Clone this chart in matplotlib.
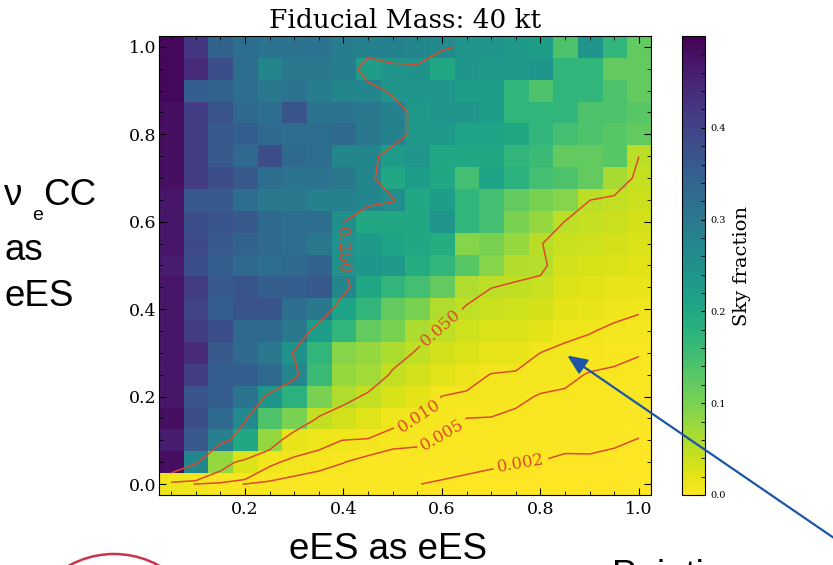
import numpy as np
import matplotlib.pyplot as plt
from matplotlib.patches import Ellipse, FancyArrowPatch
from matplotlib.ticker import MultipleLocator
from matplotlib.transforms import IdentityTransform

plt.rcParams['font.family'] = 'DejaVu Serif'

# grid centres (eES as eES along x, nu_e CC as eES along y)
x_centers = [0.05, 0.10, 0.15, 0.20, 0.25, 0.30, 0.35, 0.40, 0.45, 0.50,
             0.55, 0.60, 0.65, 0.70, 0.75, 0.80, 0.85, 0.90, 0.95, 1.00]
y_centers = [0.00, 0.05, 0.10, 0.15, 0.20, 0.25, 0.30, 0.35, 0.40, 0.45, 0.50,
             0.55, 0.60, 0.65, 0.70, 0.75, 0.80, 0.85, 0.90, 0.95, 1.00]

# sky fraction, one row per y value
frac_y000 = [0.012, 0.0098, 0.0055, 0.00495, 0.004, 0.0033, 0.0028, 0.0026, 0.0024, 0.0023, 0.00205, 0.00173, 0.00149, 0.00116, 0.00104, 0.00095, 0.0008, 0.0007, 0.0006, 0.00036]
frac_y005 = [0.48, 0.27, 0.08, 0.029, 0.0115, 0.008, 0.0065, 0.0051, 0.0034, 0.0032, 0.0036, 0.0031, 0.00265, 0.0024, 0.0021, 0.00195, 0.00163, 0.00172, 0.00152, 0.00114]
frac_y010 = [0.46, 0.36, 0.283, 0.2, 0.08, 0.0163, 0.0128, 0.0098, 0.0087, 0.0062, 0.0056, 0.00445, 0.0038, 0.00362, 0.0032, 0.00286, 0.00256, 0.00246, 0.00227, 0.00192]
frac_y015 = [0.48, 0.38, 0.33, 0.26, 0.14, 0.10, 0.045, 0.0345, 0.025, 0.0132, 0.0095, 0.00676, 0.00496, 0.00485, 0.00425, 0.00377, 0.0035, 0.0032, 0.00301, 0.0027]
frac_y020 = [0.47, 0.37, 0.35, 0.31, 0.235, 0.18, 0.10, 0.06, 0.045, 0.0297, 0.0207, 0.0097, 0.0082, 0.0071, 0.00586, 0.00468, 0.00444, 0.00395, 0.00375, 0.00348]
frac_y025 = [0.47, 0.41, 0.35, 0.35, 0.33, 0.27, 0.16, 0.08, 0.07, 0.0462, 0.034, 0.0216, 0.015, 0.0095, 0.00874, 0.0069, 0.00593, 0.0047, 0.0045, 0.00426]
frac_y030 = [0.47, 0.44, 0.36, 0.33, 0.30, 0.245, 0.17, 0.09, 0.08, 0.062, 0.0473, 0.0345, 0.026, 0.0185, 0.0159, 0.00988, 0.00827, 0.00697, 0.00582, 0.00515]
frac_y035 = [0.47, 0.41, 0.38, 0.33, 0.33, 0.30, 0.22, 0.17, 0.12, 0.10, 0.061, 0.0474, 0.0369, 0.0292, 0.0263, 0.0207, 0.012, 0.0105, 0.0084, 0.00773]
frac_y040 = [0.47, 0.40, 0.35, 0.37, 0.37, 0.32, 0.30, 0.21, 0.17, 0.12, 0.10, 0.06, 0.0478, 0.0398, 0.0368, 0.0318, 0.0196, 0.0171, 0.0126, 0.0107]
frac_y045 = [0.47, 0.41, 0.36, 0.37, 0.35, 0.35, 0.36, 0.27, 0.20, 0.17, 0.15, 0.12, 0.059, 0.0504, 0.0473, 0.0429, 0.0273, 0.0237, 0.0193, 0.0163]
frac_y050 = [0.46, 0.38, 0.35, 0.33, 0.32, 0.33, 0.34, 0.248, 0.235, 0.23, 0.19, 0.17, 0.13, 0.09, 0.0577, 0.056, 0.035, 0.0303, 0.0261, 0.0219]
frac_y055 = [0.47, 0.39, 0.36, 0.34, 0.33, 0.32, 0.30, 0.248, 0.23, 0.21, 0.20, 0.19, 0.09, 0.10, 0.08, 0.051, 0.04, 0.0369, 0.0328, 0.0276]
frac_y060 = [0.47, 0.38, 0.37, 0.36, 0.33, 0.32, 0.32, 0.252, 0.20, 0.20, 0.20, 0.24, 0.17, 0.15, 0.10, 0.08, 0.049, 0.0435, 0.0396, 0.0332]
frac_y065 = [0.47, 0.36, 0.36, 0.32, 0.30, 0.30, 0.28, 0.28, 0.27, 0.255, 0.20, 0.22, 0.17, 0.15, 0.12, 0.10, 0.09, 0.0502, 0.0463, 0.0388]
frac_y070 = [0.48, 0.41, 0.38, 0.36, 0.32, 0.31, 0.31, 0.30, 0.27, 0.20, 0.22, 0.20, 0.15, 0.21, 0.18, 0.15, 0.14, 0.12, 0.065, 0.0445]
frac_y075 = [0.48, 0.41, 0.36, 0.33, 0.38, 0.33, 0.32, 0.27, 0.27, 0.224, 0.24, 0.20, 0.20, 0.20, 0.17, 0.16, 0.12, 0.12, 0.13, 0.0501]
frac_y080 = [0.48, 0.41, 0.36, 0.35, 0.33, 0.32, 0.32, 0.33, 0.30, 0.28, 0.23, 0.23, 0.21, 0.21, 0.20, 0.17, 0.15, 0.14, 0.13, 0.12]
frac_y085 = [0.48, 0.41, 0.37, 0.33, 0.32, 0.37, 0.31, 0.31, 0.30, 0.28, 0.23, 0.24, 0.24, 0.22, 0.17, 0.17, 0.17, 0.14, 0.14, 0.13]
frac_y090 = [0.49, 0.35, 0.34, 0.32, 0.30, 0.31, 0.29, 0.27, 0.27, 0.24, 0.24, 0.24, 0.22, 0.22, 0.17, 0.14, 0.17, 0.17, 0.14, 0.12]
frac_y095 = [0.49, 0.44, 0.38, 0.32, 0.27, 0.30, 0.30, 0.29, 0.22, 0.24, 0.245, 0.20, 0.24, 0.23, 0.23, 0.24, 0.17, 0.17, 0.12, 0.12]
frac_y100 = [0.49, 0.42, 0.34, 0.32, 0.31, 0.31, 0.31, 0.29, 0.28, 0.28, 0.27, 0.26, 0.24, 0.24, 0.23, 0.22, 0.14, 0.24, 0.17, 0.12]

levels = [0.002, 0.005, 0.010, 0.050, 0.250]
cbar_ticks = [0.0, 0.1, 0.2, 0.3, 0.4]

sky = np.array([frac_y000, frac_y005, frac_y010, frac_y015, frac_y020, frac_y025,
                frac_y030, frac_y035, frac_y040, frac_y045, frac_y050, frac_y055,
                frac_y060, frac_y065, frac_y070, frac_y075, frac_y080, frac_y085,
                frac_y090, frac_y095, frac_y100])

# where the contour labels sit
label_spots = [(0.76, 0.05), (0.60, 0.115), (0.55, 0.16), (0.60, 0.355), (0.40, 0.535)]

W, H = 833, 565
fig = plt.figure(figsize=(W / 100, H / 100), dpi=100)
ax = fig.add_axes([158.8 / W, 1 - 495 / H, 492.4 / W, 459 / H])
cax = fig.add_axes([682 / W, 1 - 495 / H, 23 / W, 459 / H])

im = ax.imshow(sky, origin='lower', cmap='viridis_r', vmin=0, vmax=0.5,
               extent=[0.025, 1.025, -0.025, 1.025], aspect='auto',
               interpolation='nearest')
cs = ax.contour(x_centers, y_centers, sky, levels=levels, colors='#dc4a2c',
                linewidths=1.1)
ax.clabel(cs, fmt='%.3f', fontsize=12, manual=label_spots, inline=True,
          inline_spacing=4)

ax.set_xlim(0.025, 1.025)
ax.set_ylim(-0.025, 1.025)
ax.set_xticks([0.2, 0.4, 0.6, 0.8, 1.0])
ax.set_yticks([0.0, 0.2, 0.4, 0.6, 0.8, 1.0])
ax.xaxis.set_minor_locator(MultipleLocator(0.05))
ax.yaxis.set_minor_locator(MultipleLocator(0.05))
ax.tick_params(which='both', direction='in', top=True, right=True, labelsize=12.5)
ax.tick_params(which='major', length=5, pad=4)
ax.tick_params(which='minor', length=3)
ax.tick_params(axis='y', which='major', pad=2)
ax.set_title('Fiducial Mass: 40 kt', fontsize=19, pad=6)

cb = fig.colorbar(im, cax=cax)
cb.set_ticks(cbar_ticks)
cax.yaxis.set_minor_locator(MultipleLocator(0.02))
cax.tick_params(which='both', direction='in', length=3, labelsize=7, pad=4)
cax.text(2.6, 0.5, 'Sky fraction', rotation=90, ha='center', va='center',
         fontsize=14, transform=cax.transAxes)

# slide annotations around the plot (pixel positions, origin bottom-left)
px = IdentityTransform()
sans = 'Liberation Sans'
fig.text(4, 360, 'ν', fontsize=26.5, family=sans, transform=px)
fig.text(32, 345, 'e', fontsize=14, family=sans, transform=px)
fig.text(43, 360, 'CC', fontsize=26.5, family=sans, transform=px)
fig.text(4, 305, 'as', fontsize=26.5, family=sans, transform=px)
fig.text(4, 259, 'eES', fontsize=26.5, family=sans, transform=px)
fig.text(289, 6, 'eES as eES', fontsize=26.5, family=sans, transform=px)
fig.text(612, -21, 'Pointing', fontsize=26.5, family=sans, transform=px)

fig.add_artist(Ellipse((114, H - 647), 186, 186, transform=px, fill=False,
                       edgecolor='#c9344a', lw=1.8))
fig.add_artist(FancyArrowPatch((850, H - 549), (565, H - 354), transform=px,
                               arrowstyle='-|>,head_length=0.8,head_width=0.35',
                               mutation_scale=15, color='#1c56a5', lw=1.6))

fig.savefig('out.png', dpi=100)
